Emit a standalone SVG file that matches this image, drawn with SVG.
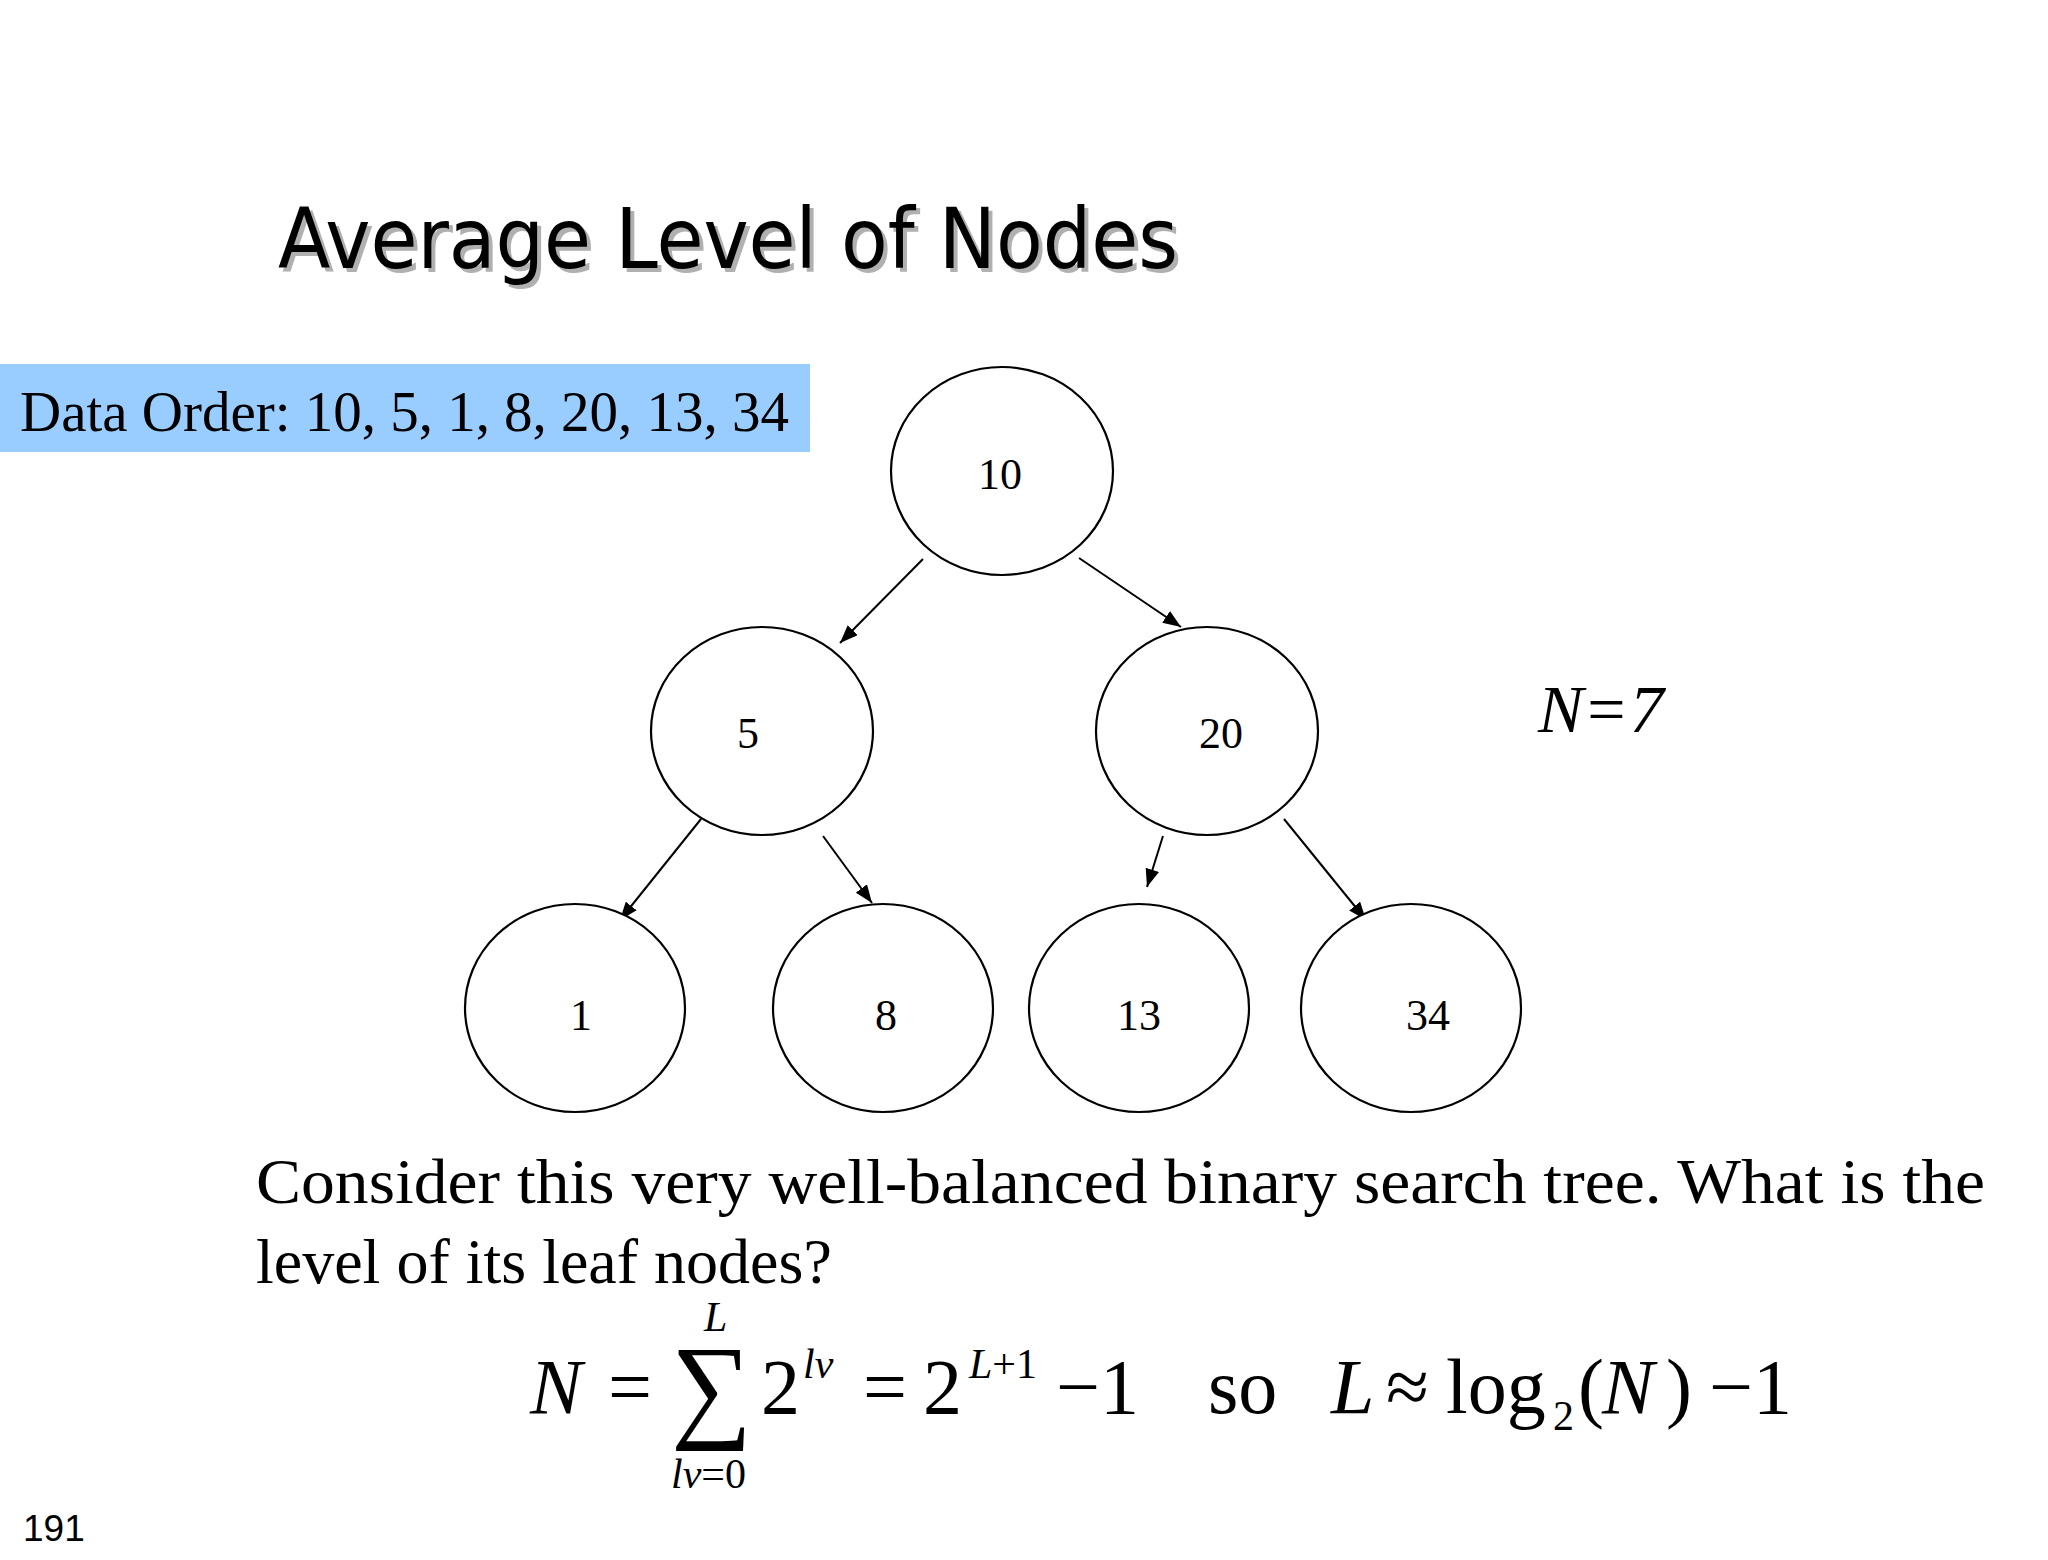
<svg xmlns="http://www.w3.org/2000/svg" width="2048" height="1560" viewBox="0 0 2048 1560">
<style>
.node ellipse{fill:#fff;stroke:#000;stroke-width:2.2}
.lbl{font-family:"Liberation Serif","Times New Roman",serif;font-size:44px;fill:#000;text-anchor:middle}
.conn line{stroke:#000;stroke-width:2;marker-end:url(#ah)}
.serif{font-family:"Liberation Serif","Times New Roman",serif;fill:#000}
.m{font-family:"Liberation Serif","Times New Roman",serif;font-size:78px;fill:#000}
.mi{font-family:"Liberation Serif","Times New Roman",serif;font-size:78px;font-style:italic;fill:#000}
.s{font-family:"Liberation Serif","Times New Roman",serif;font-size:42px;font-style:italic;fill:#000}
.title{font-family:"DejaVu Sans Condensed","DejaVu Sans",sans-serif;font-size:84px}
</style>
<defs>
<marker id="ah" markerUnits="userSpaceOnUse" markerWidth="20" markerHeight="14" refX="18" refY="7" orient="auto">
<path d="M0,0 L18,7 L0,14 z" fill="#000"/>
</marker>
</defs>
<rect width="2048" height="1560" fill="#fff"/>
<g id="title">
<text class="title" x="282" y="272" fill="#b0b0b0" textLength="900" lengthAdjust="spacingAndGlyphs">Average Level of Nodes</text>
<text class="title" x="278" y="268" fill="#000" textLength="900" lengthAdjust="spacingAndGlyphs">Average Level of Nodes</text>
</g>
<g id="data-order">
<rect x="0" y="364" width="810" height="88" fill="#99ccff"/>
<text class="serif" x="20" y="431" font-size="57" textLength="769" lengthAdjust="spacingAndGlyphs">Data Order: 10, 5, 1, 8, 20, 13, 34</text>
</g>
<g class="conn" id="connectors">
<line x1="923" y1="559" x2="840" y2="643"/>
<line x1="1079" y1="558" x2="1181" y2="627"/>
<line x1="701" y1="819" x2="620" y2="920"/>
<line x1="823" y1="836" x2="872" y2="903"/>
<line x1="1163" y1="836" x2="1147" y2="887"/>
<line x1="1284" y1="819" x2="1366" y2="920"/>
</g>
<g class="node" id="n10"><ellipse cx="1002" cy="471" rx="111" ry="104"/><text class="lbl" x="1000" y="489">10</text></g>
<g class="node" id="n5"><ellipse cx="762" cy="731" rx="111" ry="104"/><text class="lbl" x="748" y="748">5</text></g>
<g class="node" id="n20"><ellipse cx="1207" cy="731" rx="111" ry="104"/><text class="lbl" x="1221" y="748">20</text></g>
<g class="node" id="n1"><ellipse cx="575" cy="1008" rx="110" ry="104"/><text class="lbl" x="581" y="1030">1</text></g>
<g class="node" id="n8"><ellipse cx="883" cy="1008" rx="110" ry="104"/><text class="lbl" x="886" y="1030">8</text></g>
<g class="node" id="n13"><ellipse cx="1139" cy="1008" rx="110" ry="104"/><text class="lbl" x="1139" y="1030">13</text></g>
<g class="node" id="n34"><ellipse cx="1411" cy="1008" rx="110" ry="104"/><text class="lbl" x="1428" y="1030">34</text></g>
<g id="n-eq">
<text class="serif" x="1538" y="732" font-size="68"><tspan font-style="italic">N</tspan><tspan dx="4">=</tspan><tspan dx="4" font-style="italic">7</tspan></text>
</g>
<g id="question">
<text class="serif" x="256" y="1203" font-size="64" textLength="1729" lengthAdjust="spacingAndGlyphs">Consider this very well-balanced binary search tree. What is the</text>
<text class="serif" x="256" y="1283" font-size="64">level of its leaf nodes?</text>
</g>
<g id="formula">
<text class="mi" x="530" y="1413">N</text>
<text class="m" x="608" y="1413">=</text>
<text class="m" x="671" y="1426" style="font-size:116px" textLength="81" lengthAdjust="spacingAndGlyphs">∑</text>
<text class="s" x="704" y="1331">L</text>
<text class="s" x="671" y="1488">lv<tspan font-style="normal">=0</tspan></text>
<text class="m" x="761" y="1413">2</text>
<text class="s" x="803" y="1378">lv</text>
<text class="m" x="863" y="1413">=</text>
<text class="m" x="923" y="1413">2</text>
<text class="s" x="969" y="1378">L<tspan font-style="normal">+1</tspan></text>
<text class="m" x="1056" y="1413">−1</text>
<text class="m" x="1208" y="1413">so</text>
<text class="mi" x="1331" y="1413">L</text>
<text class="m" x="1386" y="1413">≈</text>
<text class="m" x="1446" y="1413">log</text>
<text class="m" x="1553" y="1430" style="font-size:42px">2</text>
<text class="m" x="1578" y="1413">(</text>
<text class="mi" x="1602" y="1413">N</text>
<text class="m" x="1666" y="1413">)</text>
<text class="m" x="1709" y="1413">−1</text>
</g>
<g id="page-number">
<text x="23" y="1541" font-family="Liberation Sans, Arial, sans-serif" font-size="37" fill="#000">191</text>
</g>
</svg>
